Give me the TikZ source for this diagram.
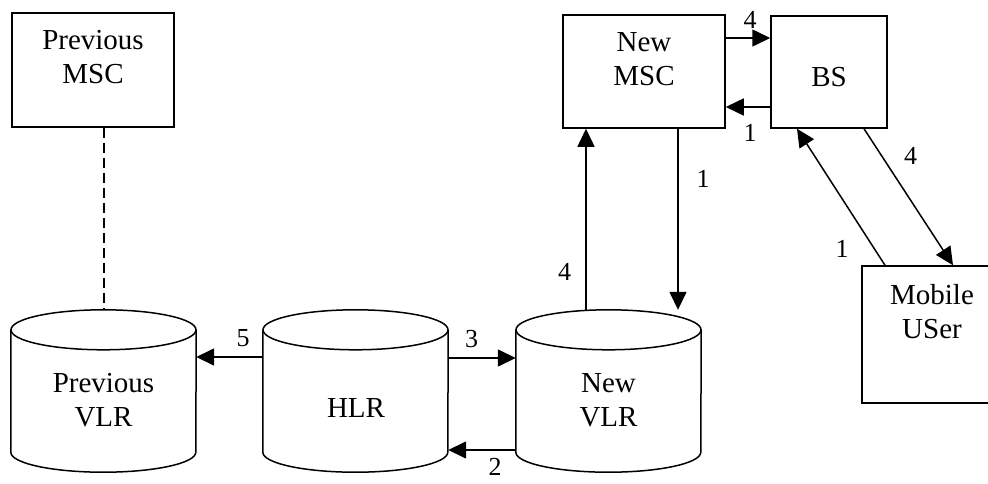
\documentclass[tikz,border=0pt]{standalone}
\usepackage{fontspec}
\setmainfont{Liberation Serif}
\usetikzlibrary{arrows.meta,calc}

% database drawn as an upright cylinder around a (borderless) node
\newcommand\dbdraw[1]{%
  \draw[line] ($(#1.north)+(0,20)$) ellipse [x radius=92.5pt, y radius=20pt];
  \draw[line] ($(#1.north west)+(0,20)$) -- ($(#1.south west)+(0,-20)$)
    arc [start angle=180, end angle=360, x radius=92.5pt, y radius=20pt]
    -- ($(#1.north east)+(0,20)$);
}

\begin{document}
\begin{tikzpicture}[x=1pt, y=-1pt,
  line/.style={line width=1.5pt},
  box/.style={draw, line width=1.5pt, inner sep=0pt},
  cylbody/.style={inner sep=0pt, minimum width=185pt, minimum height=162pt},
  txt/.style={font=\fontsize{29}{34}\selectfont, align=center, inner sep=0pt},
  num/.style={font=\fontsize{26}{30}\selectfont, inner sep=0pt},
  arr/.style={line width=1.5pt, -{Triangle[length=18pt, width=17pt]}},
  dashline/.style={line width=1.5pt, dash pattern=on 10pt off 5pt}]

\useasboundingbox (0,0) rectangle (988,483);
\clip (0,0) rectangle (988,483);

% switching centres and base station
\node[box, minimum width=162pt, minimum height=114pt] (pmsc) at (93,70) {};
\node[txt] (pmsctext) at (93,57) {Previous\\MSC};

\node[box, minimum width=162pt, minimum height=113pt] (nmsc) at (644,71.5) {};
\node[txt] (nmsctext) at (644,59) {New\\MSC};

\node[box, minimum width=116pt, minimum height=112pt] (bs) at (829,72) {};
\node[txt] (bstext) at (829,77.5) {BS};

% mobile user (box runs past the right edge)
\node[box, minimum width=148pt, minimum height=137pt] (mu) at (936,334.5) {};
\node[txt] (mutext) at (932,312) {Mobile\\USer};

% location registers
\node[cylbody] (pvlr) at (103.5,391) {};
\dbdraw{pvlr}
\node[txt] (pvlrtext) at (103.5,400) {Previous\\VLR};

\node[cylbody] (hlr) at (355.5,391) {};
\dbdraw{hlr}
\node[txt] (hlrtext) at (356,407.5) {HLR};

\node[cylbody] (nvlr) at (608.5,391) {};
\dbdraw{nvlr}
\node[txt] (nvlrtext) at (608.5,400) {New\\VLR};

% connectors
\draw[dashline] (pmsc.south -| 104,0) -- (pvlr.north -| 104,0);

\draw[arr] (hlr.west |- 0,357) -- (pvlr.east |- 0,357);
\draw[arr] (hlr.east |- 0,358) -- (nvlr.west |- 0,358);
\draw[arr] (nvlr.west |- 0,450) -- (hlr.east |- 0,450);

\draw[arr] (nvlr.north -| 586,0) -- (nmsc.south -| 586,0);
\draw[arr] (nmsc.south -| 678,0) -- (nvlr.north -| 678,0);

\draw[arr] (nmsc.east |- 0,38) -- (bs.west |- 0,38);
\draw[arr] (bs.west |- 0,107) -- (nmsc.east |- 0,107);

\draw[arr] (mu.north -| 885,0) -- (bs.south -| 797,0);
\draw[arr] (bs.south -| 864,0) -- (mu.north -| 953,0);

% message numbers
\node[num] (n5) at (243,338) {5};
\node[num] (n3) at (471.5,339) {3};
\node[num] (n2) at (495,467) {2};
\node[num] (n4v) at (564.5,272) {4};
\node[num] (n1v) at (703,179) {1};
\node[num] (n4t) at (750,19.5) {4};
\node[num] (n1m) at (750,132.5) {1};
\node[num] (n4d) at (910.5,156) {4};
\node[num] (n1d) at (842,248.5) {1};

\end{tikzpicture}
\end{document}
